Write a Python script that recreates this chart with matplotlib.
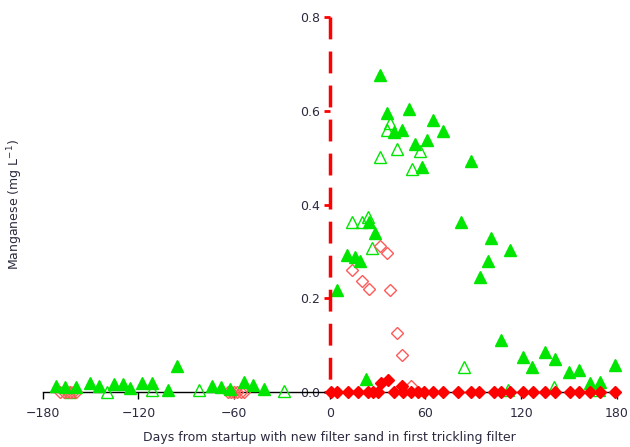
import matplotlib.pyplot as plt

# filled green triangles
tri_fill_day = [-172, -166, -159.5, -150.5, -145, -135.5, -129.6, -125.4, -117.7, -111.4,
                -101.6, -95.7, -73.7, -68, -62.6, -53.8, -48.2, -41.3,
                4.4, 10.5, 15.7, 19.1, 22.6, 24.7, 28.3, 31.6, 35.8, 40, 45.2, 49.4,
                53.6, 57.6, 60.9, 64.5, 70.8, 82.3, 88.6, 94.2, 99.4, 101.1, 107.4,
                113.3, 121, 127, 135, 141, 150, 156, 163.3, 169.2, 179.2]
tri_fill_mn = [0.013, 0.011, 0.011, 0.020, 0.013, 0.018, 0.017, 0.008, 0.020, 0.020,
               0.004, 0.055, 0.013, 0.011, 0.006, 0.022, 0.015, 0.006,
               0.217, 0.292, 0.289, 0.280, 0.028, 0.363, 0.340, 0.676, 0.596, 0.555, 0.559, 0.603,
               0.530, 0.479, 0.537, 0.581, 0.557, 0.363, 0.493, 0.245, 0.280, 0.328, 0.111,
               0.304, 0.075, 0.053, 0.086, 0.070, 0.043, 0.048, 0.020, 0.022, 0.058]

# open green triangles
tri_open_day = [-162.7, -139.7, -111.4, -82, -28.7,
                14.2, 20.5, 23.7, 26.4, 31.4, 35.8, 37.9, 42.1, 51.3, 56.7, 84.4,
                111.6, 140.4, 169]
tri_open_mn = [0.0, 0.0, 0.004, 0.004, 0.003,
               0.363, 0.363, 0.374, 0.308, 0.502, 0.559, 0.573, 0.518, 0.475, 0.515, 0.054,
               0.004, 0.010, 0.004]

# filled red diamonds
dia_fill_day = [1, 4.8, 11.1, 17.4, 23.7, 27, 30, 32, 36.2, 40.4, 45.2, 45.7, 50.9, 55.1,
                59.3, 64.5, 70.8, 80.2, 88.6, 93.8, 103.3, 107.5, 113.3, 121.1, 127.4,
                135.1, 141, 150.4, 156, 163, 169.2, 179.2]
dia_fill_mn = [0.0, 0.0, 0.0, 0.0, 0.0, 0.0, 0.0, 0.020, 0.026, 0.0, 0.013, 0.0, 0.0, 0.0,
               0.0, 0.0, 0.0, 0.0, 0.0, 0.0, 0.0, 0.0, 0.0, 0.0, 0.0,
               0.0, 0.0, 0.0, 0.0, 0.0, 0.0, 0.0]

# open red diamonds
dia_open_day = [-169, -167, -165, -163, -161, -159, -64, -62, -60, -58, -56, -54,
                14.2, 20.5, 24.3, 31.4, 35.6, 37.9, 41.9, 45.2, 50.9]
dia_open_mn = [0.0, 0.0, 0.0, 0.0, 0.0, 0.0, 0.0, 0.0, 0.0, 0.0, 0.0, 0.0,
               0.260, 0.237, 0.219, 0.312, 0.296, 0.217, 0.125, 0.079, 0.013]

green = "#00e600"
red = "#ff0000"
pink = "#ff5a5a"
txt = "#2b2b40"

fig = plt.figure(figsize=(6.3, 4.47), dpi=100)
ax = fig.add_axes([0.068, 0.123, 0.911, 0.839])

ax.plot(tri_open_day, tri_open_mn, "^", ms=8.5, mfc="none", mec=green, mew=1.0,
        linestyle="none", clip_on=False, zorder=3)
ax.plot(dia_open_day, dia_open_mn, "D", ms=6.5, mfc="none", mec=pink, mew=1.0,
        linestyle="none", clip_on=False, zorder=4)
ax.plot(tri_fill_day, tri_fill_mn, "^", ms=9, color=green, mec=green,
        linestyle="none", clip_on=False, zorder=5)
ax.plot(dia_fill_day, dia_fill_mn, "D", ms=6, color=red, mec=red,
        linestyle="none", clip_on=False, zorder=6)

# startup line at day 0
ax.plot([0, 0], [0.8, 0], color=red, lw=2.5, dashes=(6.3, 3.5), zorder=7, clip_on=False)

ax.set_xlim(-180, 180)
ax.set_ylim(0, 0.8)
ax.set_xticks([-180, -120, -60, 0, 60, 120, 180])
ax.set_yticks([0.0, 0.2, 0.4, 0.6, 0.8])
ax.set_yticklabels(["0.0", "0.2", "0.4", "0.6", "0.8"])

ax.spines["top"].set_visible(False)
ax.spines["right"].set_visible(False)
ax.spines["left"].set_position(("data", 0))
ax.spines["left"].set_visible(False)
ax.spines["bottom"].set_color("black")
ax.spines["bottom"].set_linewidth(1.0)

ax.tick_params(axis="x", direction="out", length=5, width=1, color="black",
               labelsize=9, labelcolor=txt, pad=6)
ax.tick_params(axis="y", direction="out", length=4, width=2, color=red,
               labelsize=9, labelcolor=txt, pad=3)

ax.set_xlabel("Days from startup with new filter sand in first trickling filter",
              fontsize=9, color=txt, labelpad=8)
fig.text(15 / 630, 1 - 205 / 447, "Manganese (mg L$^{-1}$)", fontsize=9, color=txt,
         rotation=90, ha="center", va="center")

fig.savefig("out.png", dpi=100)
